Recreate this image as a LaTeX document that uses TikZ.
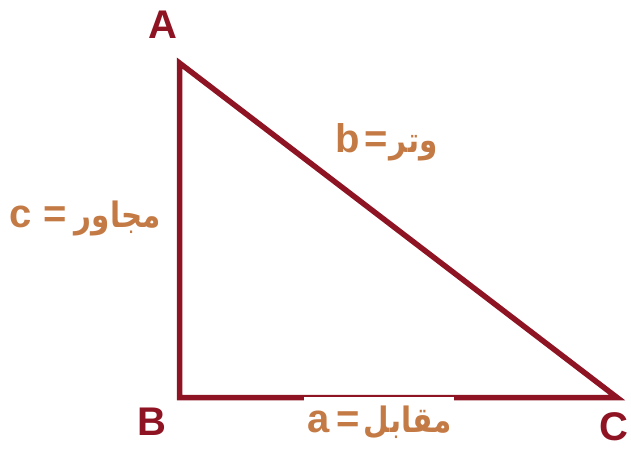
\documentclass[tikz,border=0pt]{standalone}
\usepackage{fontspec}
\setmainfont{Liberation Sans}
\newfontfamily\arabicfont[Script=Arabic, FakeStretch=0.84]{DejaVu Sans}
\TeXXeTstate=1
\definecolor{linered}{HTML}{8E1424}
\definecolor{labbrown}{HTML}{C47A45}
\begin{document}
\begin{tikzpicture}[x=1pt,y=-1pt,
  vertex/.style={font=\fontsize{40}{40}\selectfont\bfseries, text=linered, inner sep=0pt, anchor=base},
  side/.style={font=\fontsize{40}{40}\selectfont\bfseries, text=labbrown, inner sep=0pt, anchor=base west},
  edge/.style={draw=linered, line width=5.5pt, line join=miter}]
\newcommand{\artx}[1]{{\arabicfont\fontsize{35}{35}\selectfont\beginR #1\endR}}
\useasboundingbox (0,0) rectangle (631,452);
\coordinate (pA) at (179.5,63);
\coordinate (pB) at (179.5,397.5);
\coordinate (pC) at (617,397.5);
\draw[edge] (pA) -- (pB) -- (pC) -- cycle;
\node[vertex] (A) at (163,38) {A};
\node[vertex] (B) at (152,435) {B};
\node[vertex] (C) at (614,440) {C};
\node[side] (b) at (335,152) {b\hspace{5pt}=\hspace{2pt}\artx{وتر}};
\node[side] (c) at (9,227) {c\hspace{12pt}=\hspace{8pt}\artx{مجاور}};
\node[side, fill=white, text height=35pt, inner xsep=3pt] (a) at (304,432) {a\hspace{7pt}=\hspace{4pt}\artx{مقابل}\hspace{17pt}};
\end{tikzpicture}
\end{document}
